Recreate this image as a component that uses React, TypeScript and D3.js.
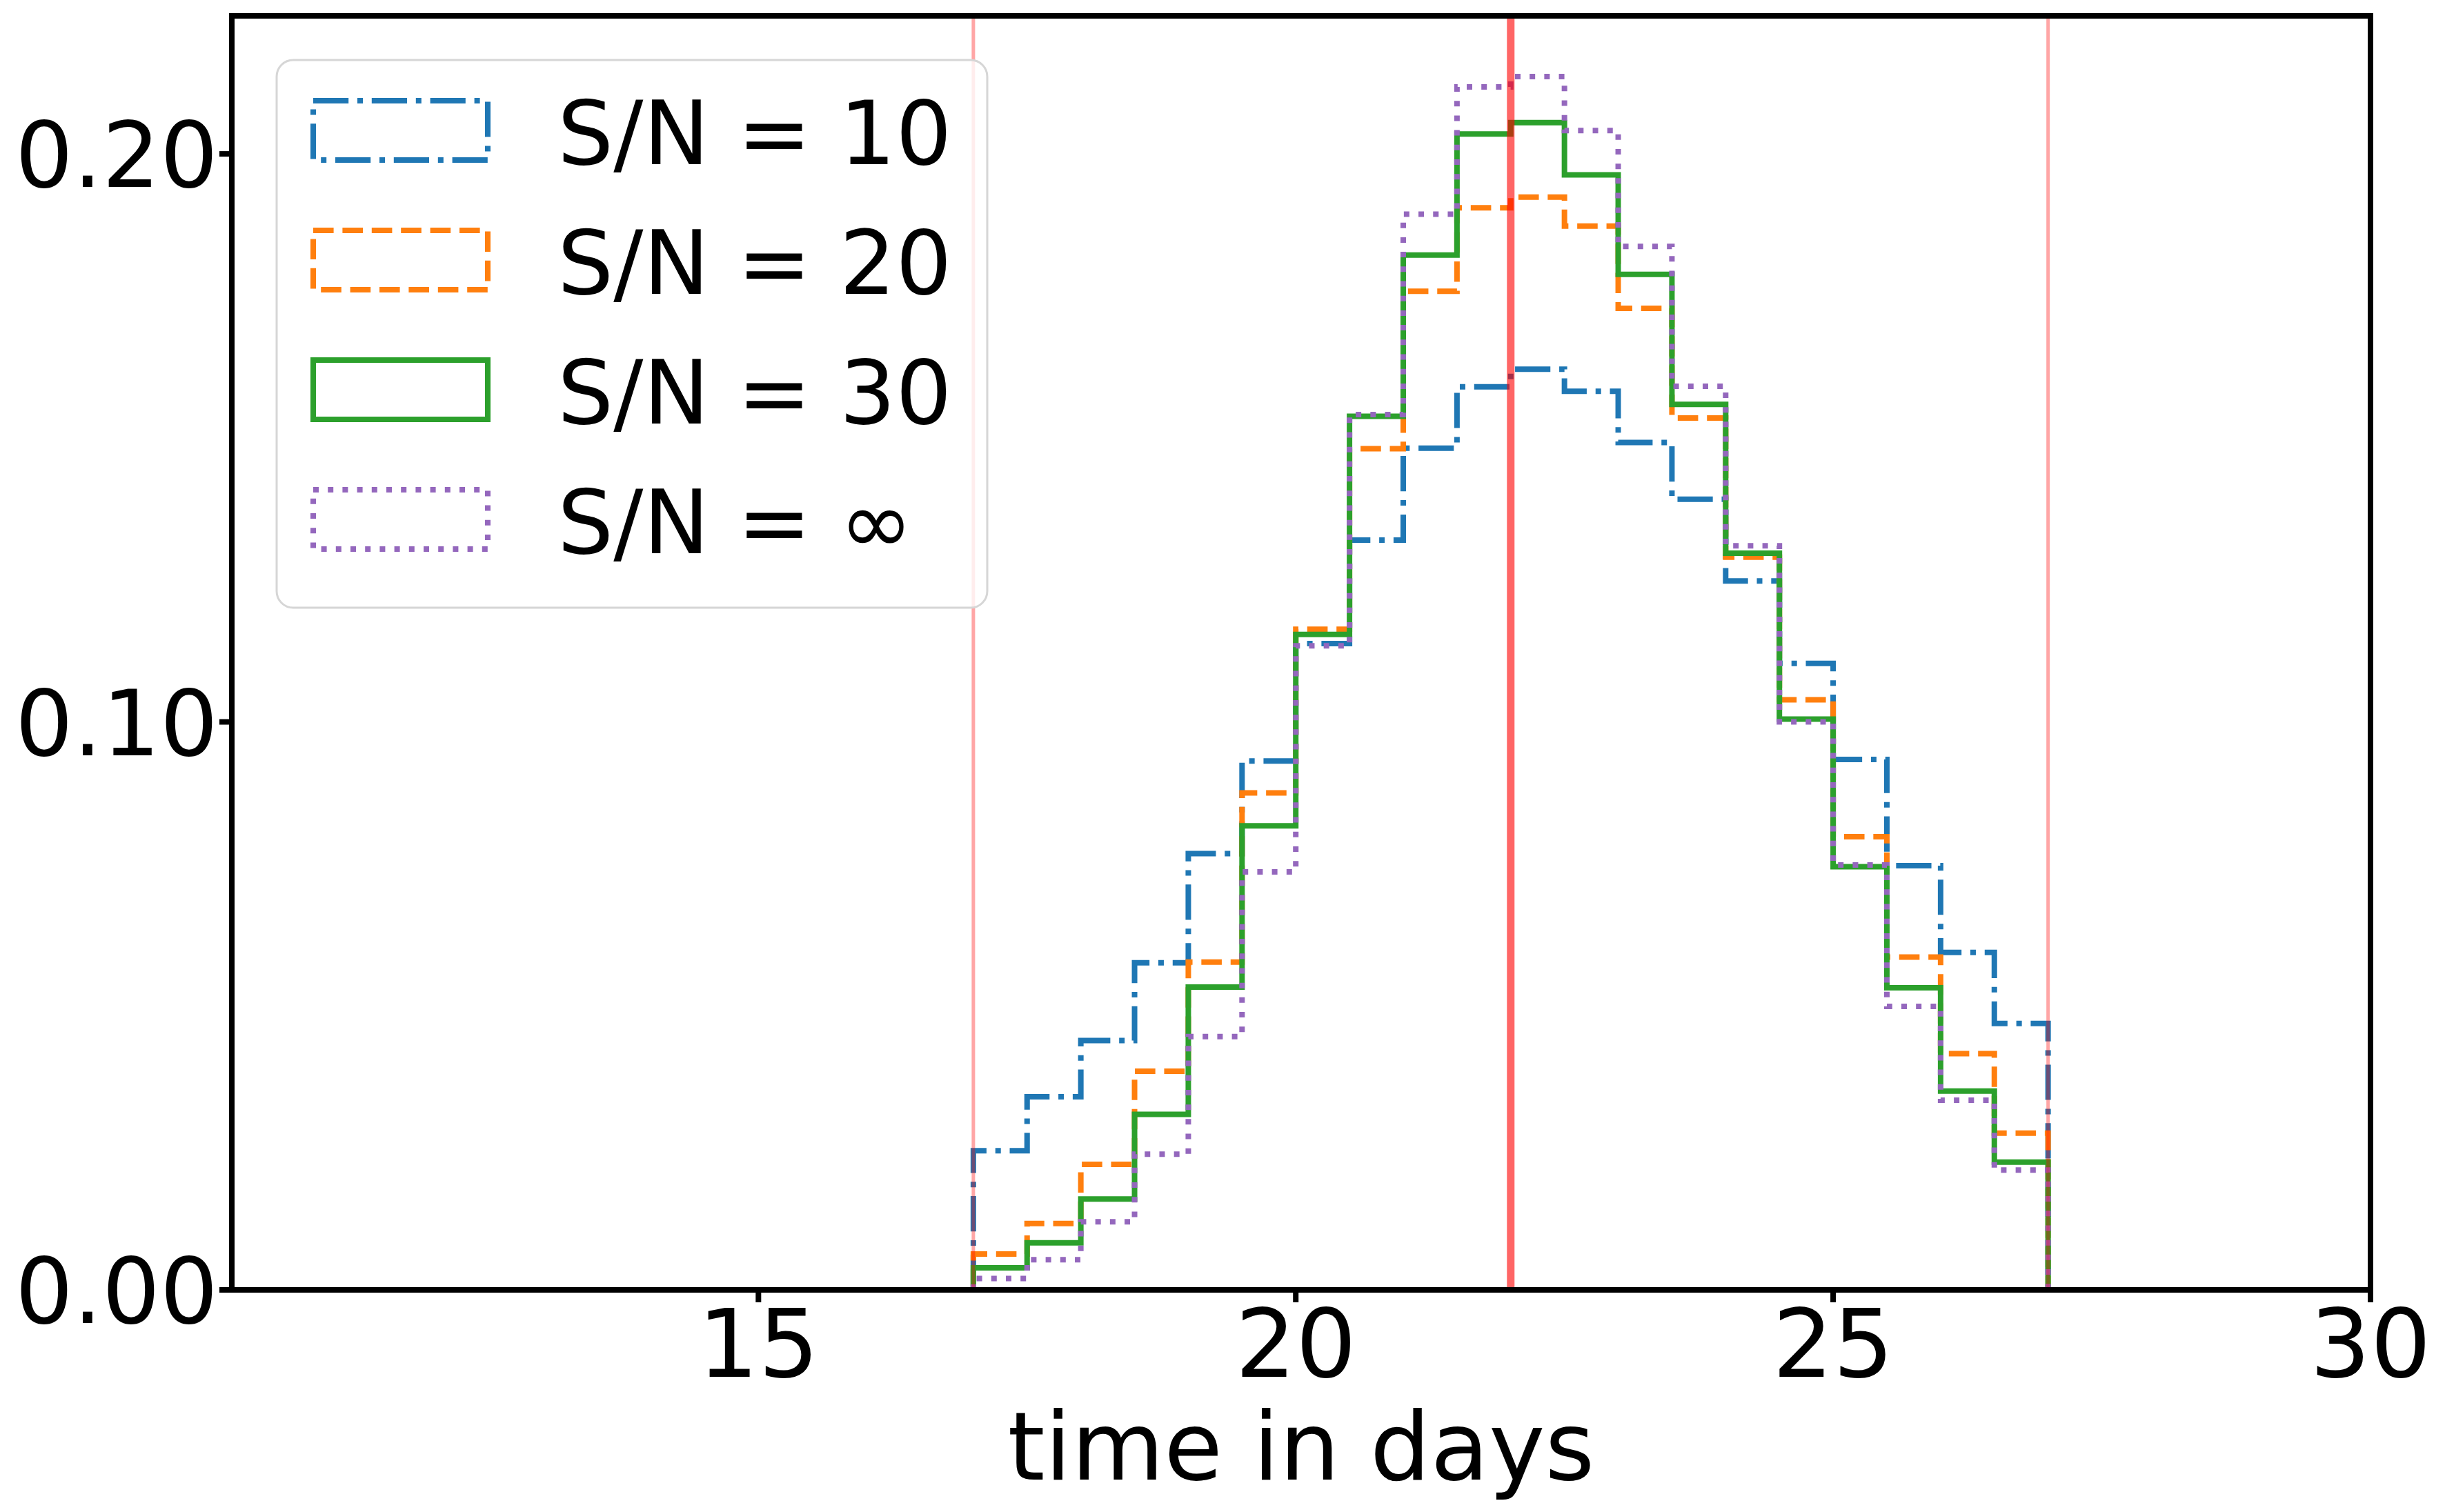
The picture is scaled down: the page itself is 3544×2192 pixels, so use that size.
import * as d3 from "d3"

// bin edges of the histograms (days)
const binEdges = [17, 17.5, 18, 18.5, 19, 19.5, 20, 20.5, 21, 21.5, 22, 22.5, 23, 23.5, 24, 24.5, 25, 25.5, 26, 26.5, 27]

// normalised counts per bin
const snr10 = [0.0245, 0.034, 0.0439, 0.0576, 0.0768, 0.0931, 0.1138, 0.132, 0.1482, 0.159, 0.1621, 0.1582, 0.1492, 0.1392, 0.1248, 0.1103, 0.0934, 0.0747, 0.0594, 0.0469]
const snr20 = [0.0063, 0.0117, 0.0221, 0.0385, 0.0577, 0.0875, 0.1163, 0.1481, 0.1758, 0.1905, 0.1924, 0.1873, 0.1728, 0.1535, 0.129, 0.1039, 0.0798, 0.0586, 0.0416, 0.0276]
const snr30 = [0.0039, 0.0083, 0.016, 0.0309, 0.0533, 0.0817, 0.1154, 0.1538, 0.1822, 0.2035, 0.2055, 0.1963, 0.1788, 0.1559, 0.1297, 0.1005, 0.0745, 0.0532, 0.035, 0.0225]
const snrInf = [0.002, 0.0053, 0.012, 0.0239, 0.0446, 0.0736, 0.1134, 0.1541, 0.1894, 0.2118, 0.2136, 0.2041, 0.1837, 0.1591, 0.131, 0.1, 0.0748, 0.0499, 0.0334, 0.0211]

const seriesLabels = ["S/N = 10", "S/N = 20", "S/N = 30", "S/N = ∞"]
const seriesColors = ["#1f77b4", "#ff7f0e", "#2ca02c", "#9467bd"]

const xTicks = [15, 20, 25, 30]
const yTicks = [0, 0.1, 0.2]
const xDomain = [10.1, 30]
const yDomain = [0, 0.2243]

// vertical marker lines: window start, true value, window end
const markerLines = [17, 22, 27]
const markerMain = [false, true, false]

const W = 3544
const H = 2192
const margin = { left: 336, right: 108, top: 23, bottom: 322 }
const FONT = "'DejaVu Sans', sans-serif"
const LW = 8

const dashes = ["51.2,12.8,8,12.8", "29.6,12.8", "none", "8,13.2"]

export default function App() {
  const x = d3.scaleLinear().domain(xDomain).range([margin.left, W - margin.right])
  const y = d3.scaleLinear().domain(yDomain).range([H - margin.bottom, margin.top])

  const series = [snr10, snr20, snr30, snrInf]

  const stepPath = (vals: number[]) => {
    const pts: [number, number][] = [[binEdges[0], 0]]
    vals.forEach((v, i) => {
      pts.push([binEdges[i], v])
      pts.push([binEdges[i + 1], v])
    })
    pts.push([binEdges[binEdges.length - 1], 0])
    return d3
      .line<[number, number]>()
      .x((d) => x(d[0]))
      .y((d) => y(d[1]))(pts) as string
  }

  const [x0, x1] = x.range()
  const [y0, y1] = y.range() // y0 bottom, y1 top
  const tickLen = 18

  // legend layout
  const leg = { x: 401, y: 87, w: 1030, h: 794 }
  const rowBase = [238, 426, 614, 802]

  return (
    <svg
      width={W}
      height={H}
      style={{ position: "absolute", left: 0, top: 0, background: "#fff" }}
      fontFamily={FONT}
    >
      <rect x={0} y={0} width={W} height={H} fill="#fff" />

      {/* histograms */}
      {series.map((vals, i) => (
        <path
          key={seriesLabels[i]}
          d={stepPath(vals)}
          fill="none"
          stroke={seriesColors[i]}
          strokeWidth={LW}
          strokeDasharray={dashes[i]}
          strokeLinejoin="miter"
          strokeLinecap="butt"
        />
      ))}

      {/* marker lines */}
      {markerLines.map((d, i) => (
        <line
          key={d}
          x1={x(d)}
          x2={x(d)}
          y1={y1}
          y2={y0}
          stroke="red"
          strokeOpacity={markerMain[i] ? 0.6 : 0.35}
          strokeWidth={markerMain[i] ? 11 : 5}
        />
      ))}

      {/* legend */}
      <rect
        x={leg.x}
        y={leg.y}
        width={leg.w}
        height={leg.h}
        rx={24}
        fill="#fff"
        fillOpacity={0.8}
        stroke="#d6d6d6"
        strokeWidth={3}
      />
      {seriesLabels.map((lab, i) => (
        <g key={lab}>
          <rect
            x={454}
            y={rowBase[i] - 92}
            width={253}
            height={86}
            fill="none"
            stroke={seriesColors[i]}
            strokeWidth={LW}
            strokeDasharray={dashes[i]}
          />
          <text x={808} y={rowBase[i]} fontSize={128} fill="#000">
            {lab}
          </text>
        </g>
      ))}

      {/* ticks */}
      {xTicks.map((t) => (
        <g key={t}>
          <line x1={x(t)} x2={x(t)} y1={y0} y2={y0 + tickLen} stroke="#000" strokeWidth={LW} />
          <text x={x(t)} y={1996} fontSize={138} textAnchor="middle" fill="#000">
            {t}
          </text>
        </g>
      ))}
      {yTicks.map((t) => (
        <g key={t}>
          <line x1={x0 - tickLen} x2={x0} y1={y(t)} y2={y(t)} stroke="#000" strokeWidth={LW} />
          <text x={316} y={y(t) + 48} fontSize={132} textAnchor="end" fill="#000">
            {d3.format(".2f")(t)}
          </text>
        </g>
      ))}

      {/* spines */}
      <rect
        x={x0}
        y={y1}
        width={x1 - x0}
        height={y0 - y1}
        fill="none"
        stroke="#000"
        strokeWidth={LW}
        strokeLinejoin="miter"
      />

      <text x={(x0 + x1) / 2} y={2145} fontSize={138} textAnchor="middle" fill="#000">
        time in days
      </text>
    </svg>
  )
}
